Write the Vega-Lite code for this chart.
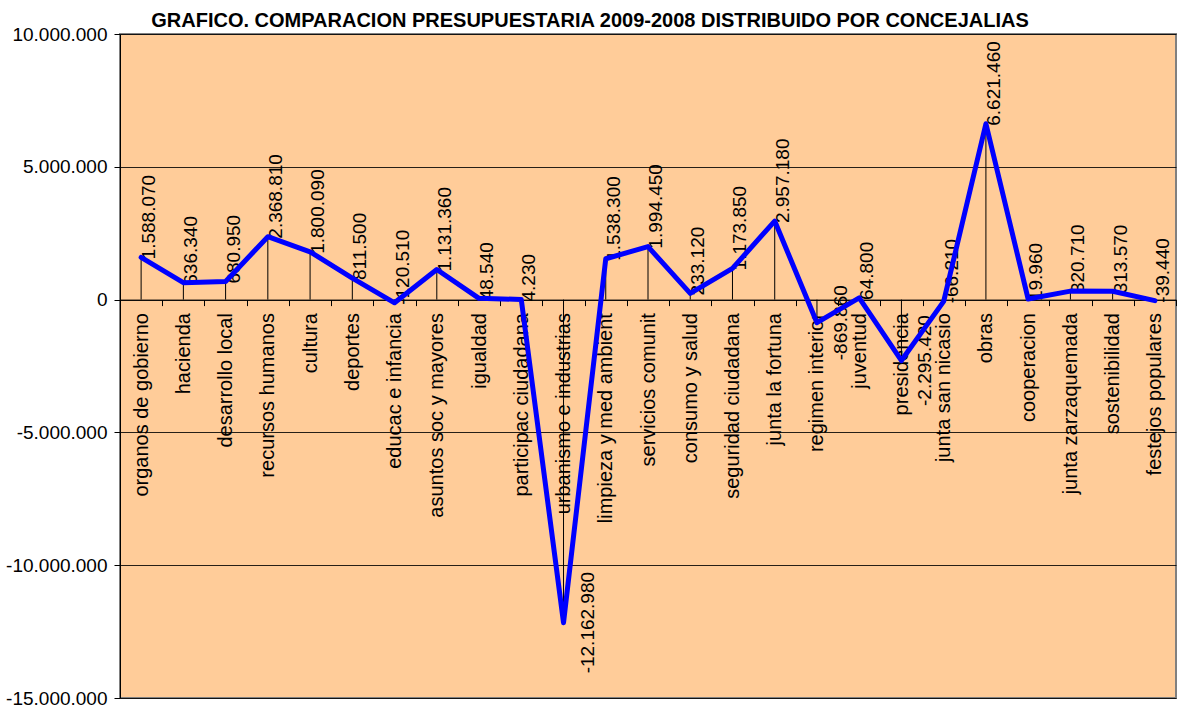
{
  "$schema": "https://vega.github.io/schema/vega-lite/v6.json",
  "width": 1056,
  "height": 664,
  "autosize": {"type": "none"},
  "padding": {"left": 120, "top": 34, "right": 8, "bottom": 9},
  "background": "white",
  "config": {
    "locale": {"number": {"decimal": ",", "thousands": ".", "grouping": [3], "currency": ["", ""], "minus": "-"}},
    "font": "Liberation Sans",
    "view": {"fill": "#FFCC99", "stroke": "#808080", "strokeWidth": 2}
  },
  "title": {
    "text": "GRAFICO. COMPARACION PRESUPUESTARIA 2009-2008 DISTRIBUIDO POR CONCEJALIAS",
    "font": "Liberation Sans",
    "fontSize": 20,
    "fontWeight": "bold",
    "color": "black",
    "anchor": "middle",
    "frame": "group",
    "dx": -58,
    "dy": 14,
    "offset": 8
  },
  "data": {
    "values": [
      {"concejalia": "organos de gobierno", "value": 1588070},
      {"concejalia": "hacienda", "value": 636340},
      {"concejalia": "desarrollo local", "value": 680950},
      {"concejalia": "recursos humanos", "value": 2368810},
      {"concejalia": "cultura", "value": 1800090},
      {"concejalia": "deportes", "value": 811500},
      {"concejalia": "educac e infancia", "value": -120510},
      {"concejalia": "asuntos soc y mayores", "value": 1131360},
      {"concejalia": "igualdad", "value": 48540},
      {"concejalia": "participac ciudadana", "value": 4230},
      {"concejalia": "urbanismo e industrias", "value": -12162980},
      {"concejalia": "limpieza y med ambient", "value": 1538300},
      {"concejalia": "servicios comunit", "value": 1994450},
      {"concejalia": "consumo y salud", "value": 233120},
      {"concejalia": "seguridad ciudadana", "value": 1173850},
      {"concejalia": "junta la fortuna", "value": 2957180},
      {"concejalia": "regimen interior", "value": -869860},
      {"concejalia": "juventud", "value": 64800},
      {"concejalia": "presidencia", "value": -2295420},
      {"concejalia": "junta san nicasio", "value": -66210},
      {"concejalia": "obras", "value": 6621460},
      {"concejalia": "cooperacion", "value": 19960},
      {"concejalia": "junta zarzaquemada", "value": 320710},
      {"concejalia": "sostenibilidad", "value": 313570},
      {"concejalia": "festejos populares", "value": -39440}
    ]
  },
  "encoding": {
    "x": {
      "field": "concejalia",
      "type": "nominal",
      "sort": null,
      "scale": {
        "domain": ["organos de gobierno", "hacienda", "desarrollo local", "recursos humanos", "cultura", "deportes", "educac e infancia", "asuntos soc y mayores", "igualdad", "participac ciudadana", "urbanismo e industrias", "limpieza y med ambient", "servicios comunit", "consumo y salud", "seguridad ciudadana", "junta la fortuna", "regimen interior", "juventud", "presidencia", "junta san nicasio", "obras", "cooperacion", "junta zarzaquemada", "sostenibilidad", "festejos populares"],
        "paddingInner": 0,
        "paddingOuter": 0
      },
      "axis": {
        "title": null,
        "offset": -398.4,
        "domainColor": "black",
        "domainWidth": 1,
        "tickBand": "extent",
        "tickColor": "black",
        "tickSize": 6,
        "labelAngle": 270,
        "labelAlign": "right",
        "labelBaseline": "middle",
        "labelFont": "Liberation Sans",
        "labelFontSize": 20,
        "labelColor": "black",
        "labelPadding": 7,
        "labelLimit": 0,
        "labelOverlap": false,
        "grid": false
      }
    },
    "y": {
      "field": "value",
      "type": "quantitative",
      "scale": {"domain": [-15000000, 10000000], "nice": false, "zero": false},
      "axis": {
        "title": null,
        "values": [-15000000, -10000000, -5000000, 0, 5000000, 10000000],
        "format": ",d",
        "domainColor": "black",
        "tickColor": "black",
        "tickSize": 6,
        "labelFont": "Liberation Sans",
        "labelFontSize": 19,
        "labelColor": "black",
        "labelPadding": 7,
        "grid": true,
        "gridColor": "#000000",
        "gridWidth": 1,
        "gridOpacity": 0.85
      }
    }
  },
  "layer": [
    {
      "mark": {"type": "rule", "color": "black", "strokeWidth": 1},
      "encoding": {"y2": {"datum": 0}}
    },
    {
      "transform": [{"filter": "datum.value >= -500000"}],
      "mark": {"type": "text", "angle": 270, "align": "left", "baseline": "top", "dx": -2, "dy": -1, "fontSize": 19, "font": "Liberation Sans", "color": "black"},
      "encoding": {"text": {"field": "value", "type": "quantitative", "format": ",d"}}
    },
    {
      "transform": [{"filter": "datum.value < -500000"}],
      "mark": {"type": "text", "angle": 270, "align": "center", "baseline": "top", "dy": 15, "fontSize": 19, "font": "Liberation Sans", "color": "black"},
      "encoding": {"text": {"field": "value", "type": "quantitative", "format": ",d"}}
    },
    {
      "mark": {"type": "line", "color": "#0000FF", "strokeWidth": 5, "strokeJoin": "round", "strokeCap": "round"},
      "encoding": {}
    }
  ]
}
